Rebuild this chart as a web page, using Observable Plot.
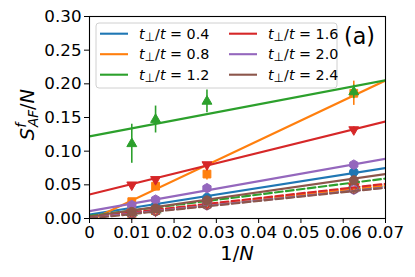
<!DOCTYPE html>
<html><head><meta charset="utf-8">
<script src="https://cdn.jsdelivr.net/npm/d3@7"></script>
<script src="https://cdn.jsdelivr.net/npm/@observablehq/plot@0.6"></script>
<style>
body{margin:0;background:#fff;}
#chart{width:415px;height:277px;}
</style></head><body><div id="chart"></div>
<script>
// ---- data ----
const invN = [0.01, 0.015625, 0.027778, 0.0625];
const tPerpLabels = ["0.4", "0.8", "1.2", "1.6", "2.0", "2.4"];
const seriesColors = ["#1f77b4", "#ff7f0e", "#2ca02c", "#d62728", "#9467bd", "#8c564b"];
const seriesMarkers = ["circle", "square", "triangleUp", "triangleDown", "hexagon", "circle"];

// filled markers (S_AF^f / N)
const filled_t04 = [0.013, 0.019, 0.031, 0.069];
const filled_t08 = [0.025, 0.048, 0.066, 0.186];
const filled_t12 = [0.111, 0.147, 0.174, 0.188];
const filled_t16 = [0.050, 0.058, 0.080, 0.132];
const filled_t20 = [0.020, 0.028, 0.045, 0.080];
const filled_t24 = [0.010, 0.015, 0.027, 0.057];
// error bars of filled markers
const err_t04 = [0.002, 0.002, 0.003, 0.004];
const err_t08 = [0.004, 0.006, 0.009, 0.018];
const err_t12 = [0.029, 0.020, 0.017, 0.010];
const err_t16 = [0.002, 0.002, 0.003, 0.004];
const err_t20 = [0.002, 0.002, 0.003, 0.004];
const err_t24 = [0.003, 0.003, 0.006, 0.006];
// open markers
const open_t04 = [0.008, 0.012, 0.022, 0.047];
const open_t08 = [0.008, 0.012, 0.022, 0.048];
const open_t12 = [0.009, 0.013, 0.024, 0.050];
const open_t16 = [0.008, 0.012, 0.022, 0.047];
const open_t20 = [0.007, 0.011, 0.020, 0.043];
const open_t24 = [0.007, 0.011, 0.020, 0.044];
// linear fits (solid: filled markers, dashed: open markers)
const solidIntercept = [0.006, -0.003, 0.122, 0.0356, 0.011, 0.003];
const solidSlope     = [0.986, 2.97, 1.19, 1.55, 1.11, 0.90];
const dashIntercept  = [0.001, 0.001, 0.004, 0.002, 0.001, 0.000];
const dashSlope      = [0.67, 0.686, 0.79, 0.707, 0.643, 0.651];
const fitRange = [0, 0.07];

const xTicks = [0, 0.01, 0.02, 0.03, 0.04, 0.05, 0.06, 0.07];
const xTickLabels = ["0", "0.01", "0.02", "0.03", "0.04", "0.05", "0.06", "0.07"];
const yTicks = [0, 0.05, 0.10, 0.15, 0.20, 0.25, 0.30];
const yTickLabels = ["0.00", "0.05", "0.10", "0.15", "0.20", "0.25", "0.30"];

const filledValues = [filled_t04, filled_t08, filled_t12, filled_t16, filled_t20, filled_t24];
const errValues = [err_t04, err_t08, err_t12, err_t16, err_t20, err_t24];
const openValues = [open_t04, open_t08, open_t12, open_t16, open_t20, open_t24];

// ---- symbols ----
const symbolDefs = {
  circle: "circle",
  square: "square",
  triangleUp: {draw(ctx, size) { const r = Math.sqrt(size / Math.PI) * 1.3;
    ctx.moveTo(0, -r); ctx.lineTo(r * 0.866, r * 0.5); ctx.lineTo(-r * 0.866, r * 0.5); ctx.closePath(); }},
  triangleDown: {draw(ctx, size) { const r = Math.sqrt(size / Math.PI) * 1.3;
    ctx.moveTo(0, r); ctx.lineTo(r * 0.866, -r * 0.5); ctx.lineTo(-r * 0.866, -r * 0.5); ctx.closePath(); }},
  hexagon: {draw(ctx, size) { const r = Math.sqrt(size / Math.PI) * 1.08;
    for (let k = 0; k < 6; k++) { const a = -Math.PI / 2 + k * Math.PI / 3;
      const px = r * Math.cos(a), py = r * Math.sin(a); k ? ctx.lineTo(px, py) : ctx.moveTo(px, py); }
    ctx.closePath(); }}
};

const marks = [];
tPerpLabels.forEach((lab, i) => {
  const color = seriesColors[i];
  const sym = symbolDefs[seriesMarkers[i]];
  const pts = invN.map((x, j) => ({x, y: filledValues[i][j], e: errValues[i][j]}));
  const opts = invN.map((x, j) => ({x, y: openValues[i][j]}));
  const solid = fitRange.map(x => ({x, y: solidIntercept[i] + solidSlope[i] * x}));
  const dash = fitRange.map(x => ({x, y: dashIntercept[i] + dashSlope[i] * x}));
  marks.push(
    Plot.ruleX(pts, {x: "x", y1: d => d.y - d.e, y2: d => d.y + d.e, stroke: color, strokeWidth: 1.6}),
    Plot.dot(pts, {x: "x", y: "y", fill: color, stroke: color, symbol: sym, r: 4.4, strokeWidth: 1}),
    Plot.dot(opts, {x: "x", y: "y", fill: "none", stroke: color, symbol: sym, r: 4.4, strokeWidth: 1.3}),
    Plot.line(solid, {x: "x", y: "y", stroke: color, strokeWidth: 2.1, clip: true}),
    Plot.line(dash, {x: "x", y: "y", stroke: color, strokeWidth: 2.1, strokeDasharray: "7.7,3.3", clip: true})
  );
});

const chart = Plot.plot({
  width: 415, height: 277,
  marginLeft: 89, marginRight: 30, marginTop: 16, marginBottom: 59,
  style: {fontFamily: "DejaVu Sans", fontSize: "16.7px", color: "black", background: "white"},
  x: {domain: [0, 0.07]},
  y: {domain: [0, 0.30]},
  marks: [
    ...marks,
    Plot.frame({stroke: "black", strokeWidth: 1.1}),
    Plot.axisX({ticks: xTicks, tickFormat: d => xTickLabels[xTicks.indexOf(d)], tickSize: 5, tickPadding: 3, label: null}),
    Plot.axisY({ticks: yTicks, tickFormat: d => yTickLabels[yTicks.indexOf(d)], tickSize: 5, tickPadding: 3, label: null})
  ]
});
document.getElementById("chart").appendChild(chart);

// ---- annotations: axis labels, legend, panel tag ----
const svg = d3.select(chart);
const xl = svg.append("text").attr("x", 237).attr("y", 260).attr("text-anchor", "middle")
  .style("font-size", "19.4px").attr("fill", "black");
xl.append("tspan").text("1/");
xl.append("tspan").attr("font-style", "italic").text("N");

const yl = svg.append("text").attr("transform", "translate(34,114.5) rotate(-90)")
  .attr("text-anchor", "middle").style("font-size", "19.4px").attr("fill", "black");
yl.append("tspan").attr("font-style", "italic").text("S");
yl.append("tspan").attr("font-style", "italic").attr("font-size", "13.6px").attr("dy", -8).text("f");
yl.append("tspan").attr("font-style", "italic").attr("font-size", "13.6px").attr("dx", -4).attr("dy", 12).text("AF");
yl.append("tspan").attr("dy", -4).text("/");
yl.append("tspan").attr("font-style", "italic").text("N");

const lg = svg.append("g").attr("text-anchor", "start");
lg.append("rect").attr("x", 96).attr("y", 23).attr("width", 241).attr("height", 65).attr("rx", 3)
  .attr("fill", "white").attr("fill-opacity", 0.8).attr("stroke", "#d0d0d0").attr("stroke-width", 1);
tPerpLabels.forEach((lab, i) => {
  const col = Math.floor(i / 3), row = i % 3;
  const x1 = 100 + col * 129, y = 33.7 + row * 20.5;
  lg.append("line").attr("x1", x1).attr("x2", x1 + 28).attr("y1", y).attr("y2", y)
    .attr("stroke", seriesColors[i]).attr("stroke-width", 2.1);
  const t = lg.append("text").attr("x", x1 + 39).attr("y", y + 5).attr("text-anchor", "start")
    .style("font-size", "14.3px").attr("fill", "black");
  t.append("tspan").attr("font-style", "italic").text("t");
  t.append("tspan").attr("font-size", "12px").attr("dy", 2).text("\u22A5");
  t.append("tspan").attr("dy", -2).text("/");
  t.append("tspan").attr("font-style", "italic").text("t");
  t.append("tspan").text(" = " + lab);
});
svg.append("text").attr("x", 344).attr("y", 43.7).attr("text-anchor", "start")
  .style("font-size", "22.2px").attr("fill", "black").text("(a)");
</script></body></html>
